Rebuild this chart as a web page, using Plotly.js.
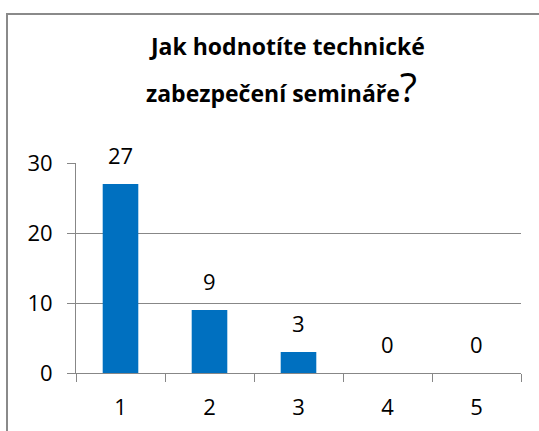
<!DOCTYPE html>
<html><head><meta charset="utf-8">
<script src="https://cdn.plot.ly/plotly-3.0.1.min.js"></script>
<style>html,body{margin:0;padding:0;background:#fff}#c{width:539px;height:431px}</style>
</head><body><div id="c"></div>
<script>
const categories = ['1', '2', '3', '4', '5'];
const values = [27, 9, 3, 0, 0];
const yTicks = [0, 10, 20, 30];
const titleLine1 = 'Jak hodnotíte technické';
const titleLine2 = 'zabezpečení semináře';

const FONT = 'Open Sans, Noto Sans, sans-serif';
const GRAY = '#878787';
const L = 76, R = 18, T = 163, B = 58, W = 539, H = 431;
const pw = W - L - R, ph = H - T - B;
const px = x => (x - L) / pw;
const py = y => (H - B - y) / ph;

const labelAnns = categories.map((c, i) => ({
  x: i, y: values[i], xref: 'x', yref: 'y', text: String(values[i]),
  showarrow: false, yanchor: 'bottom', yshift: 12,
  font: {family: FONT, size: 22, color: '#000'}
}));

const titleAnns = [
  {xref: 'paper', yref: 'paper', x: px(287), y: py(46), xanchor: 'center', yanchor: 'middle',
   text: '<b>' + titleLine1 + '</b>', showarrow: false,
   font: {family: FONT, size: 23, color: '#000'}},
  {xref: 'paper', yref: 'paper', x: px(281), y: py(87), xanchor: 'center', yanchor: 'middle',
   text: '<b>' + titleLine2 + '</b><span style="font-size:40px">?</span>', showarrow: false,
   font: {family: FONT, size: 23, color: '#000'}}
];

const data = [{
  type: 'bar', x: categories, y: values,
  marker: {color: '#0070C0'}, hoverinfo: 'none'
}];

const layout = {
  width: W, height: H,
  margin: {l: L, r: R, t: T, b: B, pad: 0},
  paper_bgcolor: '#fff', plot_bgcolor: '#fff',
  showlegend: false, bargap: 0.6,
  font: {family: FONT, size: 22, color: '#000'},
  xaxis: {
    type: 'category', range: [-0.5, 4.5], tickson: 'boundaries', ticks: 'outside', ticklen: 8, tickcolor: GRAY, tickwidth: 1,
    showline: true, linecolor: GRAY, linewidth: 1, showgrid: false, zeroline: false,
    ticklabelstandoff: 15, tickfont: {family: FONT, size: 22, color: '#000'}, fixedrange: true
  },
  yaxis: {
    range: [0, 30], tickvals: yTicks, ticks: 'outside', ticklen: 8, tickcolor: GRAY, tickwidth: 1,
    showline: true, linecolor: GRAY, linewidth: 1, showgrid: true, gridcolor: GRAY, gridwidth: 1,
    zeroline: false, ticklabelstandoff: 10, tickfont: {family: FONT, size: 22, color: '#000'}, fixedrange: true
  },
  annotations: titleAnns.concat(labelAnns),
  shapes: [{
    type: 'rect', xref: 'paper', yref: 'paper', x0: px(7), x1: px(700), y0: py(700), y1: py(14),
    line: {color: '#8a8a8a', width: 2}, fillcolor: 'rgba(0,0,0,0)', layer: 'below'
  }]
};

Plotly.newPlot('c', data, layout, {displayModeBar: false, staticPlot: true});
</script></body></html>
